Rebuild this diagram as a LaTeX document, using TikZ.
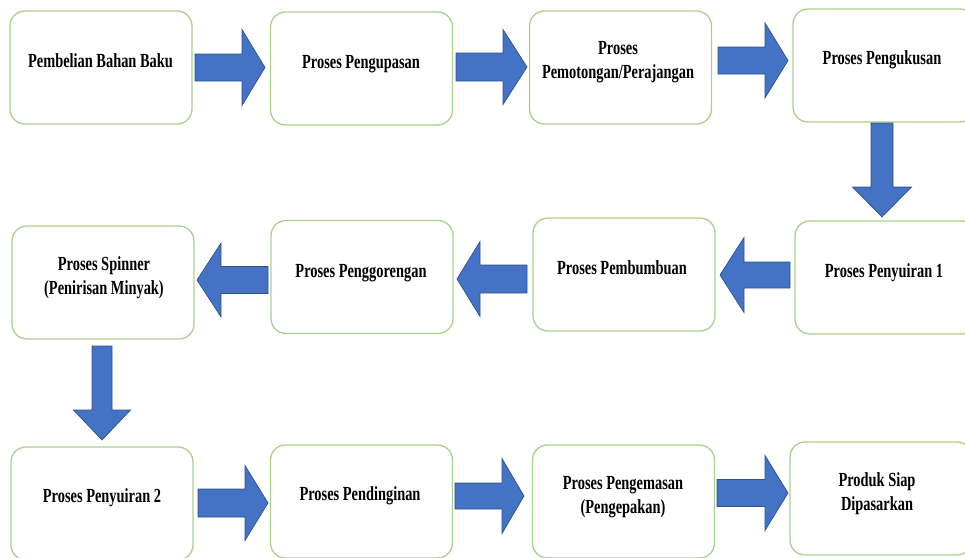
\documentclass[tikz,border=0pt]{standalone}
\usepackage{fontspec}
\newfontfamily\lblfont[FakeStretch=0.72]{Liberation Serif}
\usetikzlibrary{calc}
\definecolor{boxgreen}{HTML}{A9D18E}
\definecolor{arrowblue}{HTML}{4472C4}
\definecolor{arrowedge}{HTML}{2F528F}
\tikzset{
  procbox/.style={draw=boxgreen, line width=1.3pt, rounded corners=15pt, fill=white,
    minimum width=182pt, minimum height=113pt, inner sep=0pt},
  lbl/.style={font=\lblfont\bfseries\fontsize{20}{23.5}\selectfont, align=center, inner sep=0pt, anchor=base},
  barrow/.style={fill=arrowblue, draw=arrowedge, line width=0.7pt, line join=miter}
}
% horizontal block arrow: start, tip, shaft half, head half, head length (signed)
\newcommand{\harr}[5]{%
  \draw[barrow] ($(#1)+(0,#3)$) -- ($(#2)+({-(#5)},#3)$) -- ($(#2)+({-(#5)},#4)$) -- (#2)
    -- ($(#2)+({-(#5)},{-(#4)})$) -- ($(#2)+({-(#5)},{-(#3)})$) -- ($(#1)+(0,{-(#3)})$) -- cycle;}
% vertical (downward) block arrow: start, tip, shaft half, head half, head length
\newcommand{\varr}[5]{%
  \draw[barrow] ($(#1)+(#3,0)$) -- ($(#2)+(#3,{-(#5)})$) -- ($(#2)+(#4,{-(#5)})$) -- (#2)
    -- ($(#2)+({-(#4)},{-(#5)})$) -- ($(#2)+({-(#3)},{-(#5)})$) -- ($(#1)+({-(#3)},0)$) -- cycle;}
\begin{document}
\begin{tikzpicture}[x=1pt,y=-1pt]
\useasboundingbox (0,0) rectangle (965,557);
\clip (0,0) rectangle (965,557);
% boxes
\node[procbox] (b1) at (101,67.5) {};
\node[procbox] (b2) at (361.5,68.5) {};
\node[procbox] (b3) at (620.5,67.5) {};
\node[procbox] (b4) at (884,65.5) {};
\node[procbox] (b5) at (886,277.5) {};
\node[procbox] (b6) at (624,274.5) {};
\node[procbox] (b7) at (362,277) {};
\node[procbox] (b8) at (103,282.5) {};
\node[procbox] (b9) at (102,503.5) {};
\node[procbox] (b10) at (361.5,501.5) {};
\node[procbox] (b11) at (623.5,501.5) {};
\node[procbox] (b12) at (881,498.5) {};
% labels (anchor = baseline of the last line)
\node[lbl] (t1) at (100.5,67) {Pembelian Bahan Baku};
\node[lbl] (t2) at (361,68) {Proses Pengupasan};
\node[lbl] (t3) at (618,78) {Proses\\Pemotongan/Perajangan};
\node[lbl] (t4) at (882,64) {Proses Pengukusan};
\node[lbl] (t5) at (884,277) {Proses Penyuiran 1};
\node[lbl] (t6) at (622,274) {Proses Pembumbuan};
\node[lbl] (t7) at (361,277) {Proses Penggorengan};
\node[lbl] (t8) at (104,294) {Proses Spinner\\(Penirisan Minyak)};
\node[lbl] (t9) at (102,502) {Proses Penyuiran 2};
\node[lbl] (t10) at (360,500) {Proses Pendinginan};
\node[lbl] (t11) at (623,513) {Proses Pengemasan\\(Pengepakan)};
\node[lbl] (t12) at (877,510) {Produk Siap\\Dipasarkan};
% arrow end points
\coordinate (a1s) at (195,67.5);  \coordinate (a1e) at (265,67.5);
\coordinate (a2s) at (456,67);    \coordinate (a2e) at (527,67);
\coordinate (a3s) at (718,60.5);  \coordinate (a3e) at (788,60.5);
\coordinate (a4s) at (882,123);   \coordinate (a4e) at (882,217);
\coordinate (a5s) at (790,275);   \coordinate (a5e) at (720,275);
\coordinate (a6s) at (527,279);   \coordinate (a6e) at (457,279);
\coordinate (a7s) at (268,280);   \coordinate (a7e) at (197,280);
\coordinate (a8s) at (102,346);   \coordinate (a8e) at (102,440);
\coordinate (a9s) at (198,503);   \coordinate (a9e) at (268,503);
\coordinate (a10s) at (455,496);  \coordinate (a10e) at (524,496);
\coordinate (a11s) at (717,493);  \coordinate (a11e) at (788,493);
% arrows
\harr{a1s}{a1e}{13.5}{38}{23}
\harr{a2s}{a2e}{14}{37.5}{24}
\harr{a3s}{a3e}{13.5}{37.5}{23}
\varr{a4s}{a4e}{11}{29.5}{30}
\harr{a5s}{a5e}{13}{37.5}{-24}
\harr{a6s}{a6e}{14}{37.5}{-23}
\harr{a7s}{a7e}{13.5}{37}{-24}
\varr{a8s}{a8e}{10}{28.5}{30}
\harr{a9s}{a9e}{14}{37.5}{23}
\harr{a10s}{a10e}{13}{37.5}{22}
\harr{a11s}{a11e}{13.5}{37.5}{23}
\end{tikzpicture}
\end{document}
